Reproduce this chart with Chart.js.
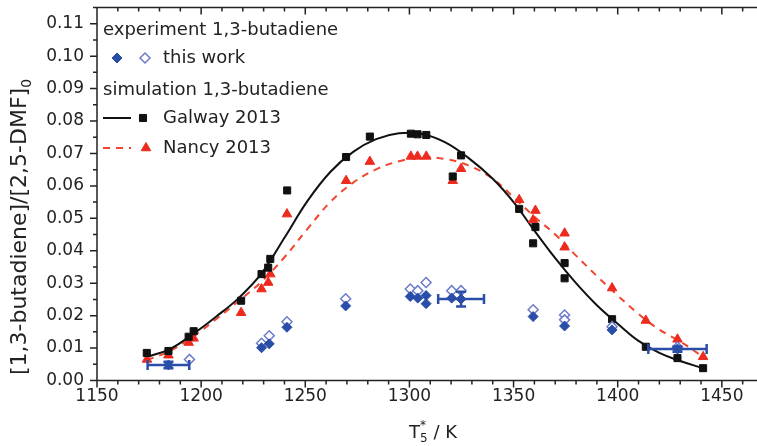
<!DOCTYPE html>
<html>
<head>
<meta charset="utf-8">
<script src="https://cdn.jsdelivr.net/npm/chart.js@4.4.1/dist/chart.umd.min.js"></script>
<style>
  html, body { margin: 0; padding: 0; background: #fff; overflow: hidden; }
  #wrap { position: relative; width: 770px; height: 446px; }
</style>
</head>
<body>
<div id="wrap"><canvas id="butadieneChart"></canvas></div>
<script>
// axis ticks
const xTicks = [1150, 1200, 1250, 1300, 1350, 1400, 1450];
const yTicks = [0, 0.01, 0.02, 0.03, 0.04, 0.05, 0.06, 0.07, 0.08, 0.09, 0.10, 0.11];
const yTickLabels = ['0.00', '0.01', '0.02', '0.03', '0.04', '0.05', '0.06', '0.07', '0.08', '0.09', '0.10', '0.11'];

// simulation markers at the experimental conditions
const galwayT = [1173.9, 1184.3, 1194, 1196.4, 1219.2, 1229, 1232.2, 1233.2, 1241.3, 1269.6, 1281, 1300.7, 1303.9, 1308.1, 1320.8, 1324.8, 1352.7, 1359.4, 1360.5, 1374.5, 1374.5, 1397.3, 1413.5, 1428.7, 1441];
const galwayY = [0.0085, 0.0091, 0.0135, 0.0152, 0.0246, 0.0328, 0.0348, 0.0375, 0.0586, 0.0689, 0.0752, 0.0761, 0.0759, 0.0757, 0.0629, 0.0694, 0.0529, 0.0423, 0.0473, 0.0362, 0.0315, 0.0189, 0.0104, 0.0069, 0.0038];
const nancyT = [1174, 1184.3, 1194, 1196.4, 1219.2, 1229, 1232.2, 1233.2, 1241.2, 1269.6, 1281, 1300.7, 1303.9, 1308.1, 1320.8, 1324.8, 1352.7, 1359.4, 1360.5, 1374.5, 1374.5, 1397.3, 1413.5, 1428.7, 1441];
const nancyY = [0.0065, 0.0078, 0.0117, 0.013, 0.0209, 0.0282, 0.0302, 0.0328, 0.0513, 0.0616, 0.0675, 0.0691, 0.0691, 0.0691, 0.0616, 0.0653, 0.0557, 0.0495, 0.0524, 0.0454, 0.0411, 0.0285, 0.0185, 0.0127, 0.0073];

// simulated profiles
const galwayCurveT = [1174, 1185, 1196, 1207, 1218, 1229, 1240, 1251, 1262, 1273, 1284, 1295, 1306, 1317, 1328, 1340, 1350, 1360, 1370, 1380, 1390, 1400, 1410, 1420, 1430, 1441];
const galwayCurveY = [0.0073, 0.0097, 0.0143, 0.0196, 0.0254, 0.0330, 0.0440, 0.0553, 0.0643, 0.0705, 0.0744, 0.0762, 0.0760, 0.0735, 0.0688, 0.0622, 0.0550, 0.0462, 0.0377, 0.0300, 0.0232, 0.0175, 0.0122, 0.0085, 0.0060, 0.0038];
const nancyCurveT = [1174, 1185, 1196, 1207, 1218, 1229, 1240, 1251, 1262, 1273, 1284, 1295, 1306, 1317, 1328, 1340, 1350, 1360, 1370, 1380, 1390, 1400, 1410, 1420, 1430, 1441];
const nancyCurveY = [0.0063, 0.0091, 0.0135, 0.0188, 0.0245, 0.0305, 0.0380, 0.0467, 0.0550, 0.0610, 0.0651, 0.0676, 0.0688, 0.0683, 0.0664, 0.0622, 0.0565, 0.0505, 0.0450, 0.0385, 0.0322, 0.0262, 0.0205, 0.0157, 0.0120, 0.0073];

// this work: filled and open symbols
const workT = [1184.3, 1229, 1232.7, 1241.2, 1269.4, 1300.4, 1304, 1308, 1308, 1320.3, 1324.8, 1359.4, 1374.5, 1397.3, 1428.7];
const workY = [0.0048, 0.0101, 0.0113, 0.0164, 0.0230, 0.0259, 0.0254, 0.0262, 0.0237, 0.0254, 0.0251, 0.0197, 0.0168, 0.0156, 0.0097];
const workOpenT = [1194.4, 1229, 1232.7, 1241.2, 1269.4, 1300.4, 1304, 1308, 1320.3, 1324.8, 1359.4, 1374.5, 1374.5, 1397.3, 1428.7];
const workOpenY = [0.0065, 0.0115, 0.0138, 0.0181, 0.0252, 0.0282, 0.0277, 0.0302, 0.0277, 0.0277, 0.0218, 0.0202, 0.0187, 0.0166, 0.0103];

// representative uncertainties
const errT = [1184.3, 1324.8, 1428.7];
const errY = [0.0048, 0.0251, 0.0097];
const errDT = [10, 11, 14];
const errDY = [0.001, 0.0023, 0.0008];

const FONT = "'DejaVu Sans', sans-serif";
const INK = '#222';
const BLUE = '#2a4ea8';
const BLUE_OPEN = '#6c7bcb';
const RED = '#ec2a1e';
const RED_LINE = '#f2462e';

const pts = (xs, ys) => xs.map((x, i) => ({ x: x, y: ys[i] }));

const frame = {
  id: 'frame',
  afterDraw(chart) {
    const { ctx, chartArea: a, scales: { x, y } } = chart;
    ctx.save();
    ctx.strokeStyle = INK;
    ctx.lineWidth = 1.5;
    ctx.beginPath();
    ctx.moveTo(a.right + 10, a.top);
    ctx.lineTo(a.left, a.top);
    ctx.lineTo(a.left, a.bottom);
    ctx.lineTo(a.right + 10, a.bottom);
    for (let t = 1150; t <= 1470; t += 10) {
      const px = x.getPixelForValue(t);
      const len = t % 50 === 0 ? 7 : 4;
      ctx.moveTo(px, a.bottom); ctx.lineTo(px, a.bottom + len);
      ctx.moveTo(px, a.top); ctx.lineTo(px, a.top + len);
    }
    for (let i = 0; i <= 23; i++) {
      const py = y.getPixelForValue(i * 0.005);
      const len = i % 2 === 0 ? 7 : 4;
      ctx.moveTo(a.left - len, py); ctx.lineTo(a.left, py);
    }
    ctx.stroke();

    // axis titles
    ctx.fillStyle = INK;
    ctx.textBaseline = 'alphabetic';
    ctx.font = '22px ' + FONT;
    const main = '[1,3-butadiene]/[2,5-DMF]';
    const wMain = ctx.measureText(main).width;
    ctx.font = '14px ' + FONT;
    const wSub = ctx.measureText('0').width;
    ctx.save();
    ctx.translate(26, 227);
    ctx.rotate(-Math.PI / 2);
    const start = -(wMain + wSub) / 2;
    ctx.font = '22px ' + FONT;
    ctx.fillText(main, start, 0);
    ctx.font = '14px ' + FONT;
    ctx.fillText('0', start + wMain, 5);
    ctx.restore();

    ctx.font = '18px ' + FONT;
    const wT = ctx.measureText('T').width;
    const rest = ' / K';
    const wRest = ctx.measureText(rest).width;
    ctx.font = '12px ' + FONT;
    const w5 = ctx.measureText('5').width;
    const total = wT + w5 + wRest;
    const x0 = 433 - total / 2;
    const base = 438;
    ctx.font = '18px ' + FONT;
    ctx.fillText('T', x0, base);
    ctx.font = '12px ' + FONT;
    ctx.fillText('5', x0 + wT, base + 4);
    ctx.fillText('*', x0 + wT, base - 9);
    ctx.font = '18px ' + FONT;
    ctx.fillText(rest, x0 + wT + w5, base);

    // legend
    const h = Chart.helpers;
    ctx.font = '18px ' + FONT;
    ctx.textBaseline = 'middle';
    ctx.fillText('experiment 1,3-butadiene', 103, 30);
    ctx.fillStyle = BLUE; ctx.strokeStyle = BLUE; ctx.lineWidth = 1;
    h.drawPoint(ctx, { pointStyle: 'rectRot', radius: 5, borderWidth: 1 }, 117, 58);
    ctx.fillStyle = '#fff'; ctx.strokeStyle = BLUE_OPEN; ctx.lineWidth = 1.5;
    h.drawPoint(ctx, { pointStyle: 'rectRot', radius: 5, borderWidth: 1.5 }, 145, 58);
    ctx.fillStyle = INK;
    ctx.fillText('this work', 163, 58);
    ctx.fillText('simulation 1,3-butadiene', 103, 90);
    ctx.strokeStyle = '#111'; ctx.lineWidth = 2;
    ctx.beginPath(); ctx.moveTo(103, 118); ctx.lineTo(131, 118); ctx.stroke();
    ctx.fillStyle = '#111'; ctx.lineWidth = 1;
    h.drawPoint(ctx, { pointStyle: 'rect', radius: 5, borderWidth: 1 }, 143, 118);
    ctx.fillStyle = INK;
    ctx.fillText('Galway 2013', 163, 118);
    ctx.strokeStyle = RED_LINE; ctx.lineWidth = 2; ctx.setLineDash([7, 6]);
    ctx.beginPath(); ctx.moveTo(103, 148); ctx.lineTo(131, 148); ctx.stroke();
    ctx.setLineDash([]);
    ctx.fillStyle = RED; ctx.strokeStyle = RED; ctx.lineWidth = 1;
    h.drawPoint(ctx, { pointStyle: 'triangle', radius: 5.5, borderWidth: 1 }, 146, 148);
    ctx.fillStyle = INK;
    ctx.fillText('Nancy 2013', 163, 148);
    ctx.restore();
  }
};

const errorBars = {
  id: 'errorBars',
  afterDatasetsDraw(chart) {
    const { ctx, scales: { x, y } } = chart;
    ctx.save();
    ctx.strokeStyle = BLUE;
    ctx.lineWidth = 2.5;
    ctx.beginPath();
    errT.forEach((t, i) => {
      const cx = x.getPixelForValue(t), cy = y.getPixelForValue(errY[i]);
      const x1 = x.getPixelForValue(t - errDT[i]), x2 = x.getPixelForValue(t + errDT[i]);
      const y1 = y.getPixelForValue(errY[i] - errDY[i]), y2 = y.getPixelForValue(errY[i] + errDY[i]);
      ctx.moveTo(x1, cy); ctx.lineTo(x2, cy);
      ctx.moveTo(x1, cy - 5); ctx.lineTo(x1, cy + 5);
      ctx.moveTo(x2, cy - 5); ctx.lineTo(x2, cy + 5);
      ctx.moveTo(cx, y1); ctx.lineTo(cx, y2);
      ctx.moveTo(cx - 5, y1); ctx.lineTo(cx + 5, y1);
      ctx.moveTo(cx - 5, y2); ctx.lineTo(cx + 5, y2);
    });
    ctx.stroke();
    ctx.restore();
  }
};

new Chart(document.getElementById('butadieneChart'), {
  type: 'scatter',
  data: {
    datasets: [
      {
        label: 'this work',
        data: pts(workT, workY),
        pointStyle: 'rectRot', pointRadius: 5,
        backgroundColor: BLUE, borderColor: BLUE, borderWidth: 1,
        order: 1
      },
      {
        label: 'this work (open)',
        data: pts(workOpenT, workOpenY),
        pointStyle: 'rectRot', pointRadius: 5,
        backgroundColor: '#fff', borderColor: BLUE_OPEN, borderWidth: 1.5,
        order: 2
      },
      {
        label: 'Galway 2013',
        data: pts(galwayT, galwayY),
        pointStyle: 'rect', pointRadius: 5,
        backgroundColor: '#111', borderColor: '#111', borderWidth: 1,
        order: 3
      },
      {
        label: 'Nancy 2013',
        data: pts(nancyT, nancyY),
        pointStyle: 'triangle', pointRadius: 5.5,
        backgroundColor: RED, borderColor: RED, borderWidth: 1,
        order: 4
      },
      {
        label: 'Galway 2013 profile',
        data: pts(galwayCurveT, galwayCurveY),
        showLine: true, pointRadius: 0,
        borderColor: '#111', borderWidth: 2,
        tension: 0.4,
        order: 5
      },
      {
        label: 'Nancy 2013 profile',
        data: pts(nancyCurveT, nancyCurveY),
        showLine: true, pointRadius: 0,
        borderColor: RED_LINE, borderWidth: 2, borderDash: [7, 6],
        tension: 0.4,
        order: 6
      }
    ]
  },
  options: {
    responsive: true,
    maintainAspectRatio: false,
    animation: false,
    layout: { padding: { top: 7.5, right: 3.6, left: 0, bottom: 0 } },
    plugins: { legend: { display: false }, tooltip: { enabled: false } },
    scales: {
      x: {
        type: 'linear', min: 1150, max: 1470,
        afterFit(s) { s.height = 65.5; s.paddingLeft = 0; s.paddingRight = 0; },
        afterBuildTicks(s) { s.ticks = xTicks.map(v => ({ value: v })); },
        ticks: { autoSkip: false, maxRotation: 0, padding: 6, color: INK, font: { family: FONT, size: 17 }, callback: v => String(v) },
        grid: { display: false, drawTicks: false },
        border: { display: false }
      },
      y: {
        type: 'linear', min: 0, max: 0.115,
        afterFit(s) { s.width = 97; s.paddingTop = 0; s.paddingBottom = 0; },
        afterBuildTicks(s) { s.ticks = yTicks.map(v => ({ value: v })); },
        ticks: { autoSkip: false, padding: 13, color: INK, font: { family: FONT, size: 17 }, callback: (v, i) => yTickLabels[i] },
        grid: { display: false, drawTicks: false },
        border: { display: false }
      }
    }
  },
  plugins: [errorBars, frame]
});
</script>
</body>
</html>
